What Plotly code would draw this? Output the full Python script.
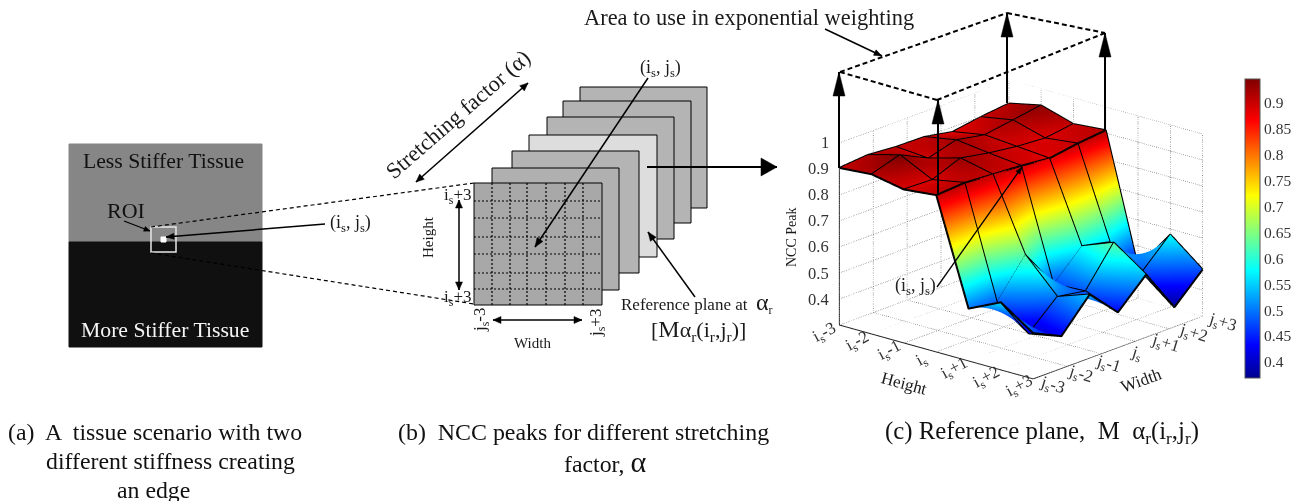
import math
import plotly.graph_objects as go

W, H = 1303, 501
SERIF = "Liberation Serif"

# ---------- panel (c) data ----------
i_index = [0, 1, 2, 3, 4, 5, 6]
j_index = [0, 1, 2, 3, 4, 5, 6]
ncc_i0 = [.904, .913, .904, .902, .881, .898, .910]
ncc_i1 = [.914, .947, .894, .924, .903, .920, .937]
ncc_i2 = [.890, .886, .929, .908, .893, .885, .900]
ncc_i3 = [.903, .910, .902, .895, .883, .900, .911]
ncc_i4 = [.501, .486, .628, .474, .580, .555, .420]
ncc_i5 = [.560, .400, .500, .481, .628, .474, .579]
ncc_i6 = [.476, .424, .544, .435, .540, .374, .479]
ncc_rows = [ncc_i0, ncc_i1, ncc_i2, ncc_i3, ncc_i4, ncc_i5, ncc_i6]

i_ticktext = ["i<sub>s</sub>-3", "i<sub>s</sub>-2", "i<sub>s</sub>-1", "i<sub>s</sub>",
              "i<sub>s</sub>+1", "i<sub>s</sub>+2", "i<sub>s</sub>+3"]
j_ticktext = ["j<sub>s</sub>-3", "j<sub>s</sub>-2", "j<sub>s</sub>-1", "j<sub>s</sub>",
              "j<sub>s</sub>+1", "j<sub>s</sub>+2", "j<sub>s</sub>+3"]
z_ticks = [0.4, 0.5, 0.6, 0.7, 0.8, 0.9, 1.0]
z_ticktext = ["0.4", "0.5", "0.6", "0.7", "0.8", "0.9", "1"]
j_grid = [0, 1.2, 2.4, 3.6, 4.8, 6]
i_grid = [0, 1, 2, 3, 4, 5, 6]
cbar_ticks = [0.4, 0.45, 0.5, 0.55, 0.6, 0.65, 0.7, 0.75, 0.8, 0.85, 0.9]
cbar_ticktext = ["0.4", "0.45", "0.5", "0.55", "0.6", "0.65", "0.7", "0.75", "0.8", "0.85", "0.9"]
Z_MIN, Z_MAX = 0.3, 1.0
C_MIN, C_MAX = 0.369, 0.946

JET = [[0, "rgb(0,0,143)"], [0.11, "rgb(0,0,255)"], [0.36, "rgb(0,255,255)"],
       [0.61, "rgb(255,255,0)"], [0.86, "rgb(255,0,0)"], [1, "rgb(128,0,0)"]]

# ---------- panel (b) planes (left, top, right, bottom, fill) ----------
planes = [
    (580, 87, 707, 208, "#b4b4b4"),
    (563, 101, 691, 223, "#b4b4b4"),
    (547, 117, 674, 239, "#b4b4b4"),
    (529, 135, 657, 257, "#dddddd"),
    (512, 151, 639, 273, "#b4b4b4"),
    (492, 168, 619, 290, "#b0b0b0"),
    (474, 183, 602, 305, "#a8a8a8"),
]
grid_v = [492, 510, 527, 546, 565, 583]
grid_h = [201, 218, 237, 254, 273, 289]

def px(x):
    return x / W

def py(y):
    return 1 - y / H

shapes, annos = [], []

def line(x0, y0, x1, y1, color="black", width=1.5, dash=None):
    shapes.append(dict(type="line", xref="paper", yref="paper", x0=px(x0), y0=py(y0), x1=px(x1), y1=py(y1),
                       line=dict(color=color, width=width, dash=dash), layer="above"))

def rect(x0, y0, x1, y1, fill=None, color="black", width=1):
    shapes.append(dict(type="rect", xref="paper", yref="paper", x0=px(x0), y0=py(y0), x1=px(x1), y1=py(y1),
                       fillcolor=fill if fill else "rgba(0,0,0,0)",
                       line=dict(color=color, width=width), layer="above"))

def head(x0, y0, x1, y1, length=8, half=3.5, color="black"):
    a = math.atan2(y1 - y0, x1 - x0)
    bx, by = x1 - length * math.cos(a), y1 - length * math.sin(a)
    nx, ny = -math.sin(a), math.cos(a)
    pts = [(x1, y1), (bx + half * nx, by + half * ny), (bx - half * nx, by - half * ny)]
    path = "M " + " L ".join(f"{px(p)} {py(q)}" for p, q in pts) + " Z"
    shapes.append(dict(type="path", xref="paper", yref="paper", path=path, fillcolor=color,
                       line=dict(color=color, width=0.5), layer="above"))

def arrow(x0, y0, x1, y1, both=False, width=1.5, length=8, half=3.5):
    line(x0, y0, x1, y1, width=width)
    head(x0, y0, x1, y1, length, half)
    if both:
        head(x1, y1, x0, y0, length, half)

def text(x, y, s, size=15, color="#1a1a1a", angle=0, anchor="center"):
    annos.append(dict(xref="paper", yref="paper", x=px(x), y=py(y), text=s, showarrow=False,
                      xanchor=anchor, yanchor="middle", textangle=angle, borderpad=0, borderwidth=0,
                      font=dict(family=SERIF, size=size, color=color)))

# ---------- panel (a) ----------
rect(69, 144, 262, 242, fill="#868686", color="#868686")
rect(69, 242, 262, 347, fill="#101010", color="#101010")
text(163, 161, "Less Stiffer Tissue", 21.7, "#111111")
text(165, 330, "More Stiffer Tissue", 21.7, "#f5f5f5")
text(126, 210, "ROI", 22, "#111111")
arrow(124, 221, 150, 231, width=1.2, length=6, half=2.5)
rect(151, 227, 176, 252, color="#e6e6e6", width=1.5)
rect(161, 237, 166, 242, fill="white", color="white")
arrow(325, 224, 166, 237, width=1.5, length=8, half=3)
text(350, 223, "(i<sub>s</sub>, j<sub>s</sub>)", 18)
line(151, 227, 474, 183, dash="4px,3px", width=1.2)
line(151, 253, 474, 304, dash="4px,3px", width=1.2)

# ---------- panel (b) ----------
for l, t, r, b, fill in planes:
    rect(l, t, r, b, fill=fill, color="black", width=1)
for gx in grid_v:
    line(gx, 183, gx, 305, dash="2px,2px", width=1.2)
for gy in grid_h:
    line(474, gy, 602, gy, dash="2px,2px", width=1.2)
arrow(647, 167, 777, 167, width=2, length=16, half=9)
arrow(648, 78, 535, 247, width=1.5, length=9, half=3.5)
text(660, 69, "(i<sub>s</sub>, j<sub>s</sub>)", 18)
arrow(695, 297, 648, 232, width=1.5, length=9, half=3.5)
text(697, 303, "Reference plane at  <span style='font-size:24px'>α</span><sub>r</sub>", 17)
text(698, 330, "[<span style='font-size:24px'>M</span>α<sub>r</sub>(i<sub>r</sub>,j<sub>r</sub>)]", 22)
text(428, 237, "Height", 15, angle=-90)
arrow(459, 200, 459, 290, both=True, width=1.5)
text(457, 196, "i<sub>s</sub>+3", 17)
text(457, 298, "i<sub>s</sub>+3", 17)
text(481, 320, "j<sub>s</sub>-3", 17, angle=-90)
text(597, 323, "j<sub>s</sub>+3", 17, angle=-90)
arrow(493, 320, 582, 320, both=True, width=1.5)
text(532, 343, "Width", 15)
text(458, 115, "Stretching factor (α)", 22.5, angle=-41)
arrow(416, 182, 528, 83, both=True, width=1.5)

# ---------- panel (c) overlays ----------
text(749, 18, "Area to use in exponential weighting", 22.4)
arrow(825, 29, 882, 56, width=1.5, length=8, half=3)
for x0, y0, y1 in [(839, 168, 72), (938, 195, 100), (1007, 103, 13), (1105, 130, 33)]:
    arrow(x0, y0, x0, y1, width=2, length=24, half=6)
top = [(840, 72), (1007, 13), (1105, 33), (937, 100), (840, 72)]
for (a, b), (c, d) in zip(top[:-1], top[1:]):
    line(a, b, c, d, dash="5px,3px", width=2)
arrow(937, 287, 1022, 167, width=1.3, length=7, half=2.5)
text(915, 286, "(i<sub>s</sub>, j<sub>s</sub>)", 18, "#222222")
text(791, 237, "NCC Peak", 14, angle=-90)
text(904, 383, "Height", 17, angle=15)
text(1141, 380, "Width", 17, angle=-20)

# ---------- captions ----------
text(8, 432, "(a)  A  tissue scenario with two", 23.8, "#111111", anchor="left")
text(171, 461, "different stiffness creating", 23.8, "#111111")
text(153, 490, "an edge", 23.8, "#111111")
text(583, 432, "(b)  NCC peaks for different stretching", 23.9, "#111111")
text(605, 461, "factor, <span style='font-size:30px'>α</span>", 23.8, "#111111")
text(1042, 432, "(c) Reference plane,  M  α<sub>r</sub>(i<sub>r</sub>,j<sub>r</sub>)", 24.8, "#111111")

# ---------- 3D scene ----------
traces = []
z_grid_color = "#6e6e6e"

def seg3(xs, ys, zs, color, width, dash=None):
    traces.append(go.Scatter3d(x=xs, y=ys, z=zs, mode="lines", hoverinfo="skip", showlegend=False,
                               line=dict(color=color, width=width, dash=dash)))

zt = [list(r) for r in zip(*ncc_rows)]  # z[j][i]
traces.append(go.Surface(
    x=i_index, y=j_index, z=zt, colorscale=JET, cmin=C_MIN, cmax=C_MAX, hoverinfo="skip",
    lighting=dict(ambient=1, diffuse=0, specular=0, fresnel=0, roughness=1),
    colorbar=dict(
        x=1245 / W, xanchor="left", y=py(228.5), yanchor="middle", len=299, lenmode="pixels",
        thickness=15, thicknessmode="pixels", xpad=0, ypad=0, outlinecolor="#555555", outlinewidth=1,
        tickmode="array", tickvals=cbar_ticks, ticktext=cbar_ticktext, ticks="",
        tickfont=dict(family=SERIF, size=15.5, color="#333333"))))

for zv in z_ticks:
    seg3([0, 0, 6], [0, 6, 6], [zv, zv, zv], z_grid_color, 1.5, "dot")
for jv in j_grid:
    seg3([6, 0, 0], [jv, jv, jv], [Z_MIN, Z_MIN, Z_MAX], z_grid_color, 1.5, "dot")
for iv in i_grid:
    seg3([iv, iv, iv], [0, 6, 6], [Z_MIN, Z_MIN, Z_MAX], z_grid_color, 1.5, "dot")
seg3([0, 0, 6, 6], [0, 0, 0, 6], [0.9, Z_MIN, Z_MIN, Z_MIN], "#222222", 2)

# wireframe along the data rows and columns
for a, row in zip(i_index, ncc_rows):
    seg3([a] * len(j_index), j_index, row, "black", 4)
for b in j_index:
    seg3(i_index, [b] * len(i_index), [r[b] for r in ncc_rows], "black", 4)

scene_ann = []
def s_text(x, y, z, s, xs, ys, angle, size=17, anchor="center"):
    scene_ann.append(dict(x=x, y=y, z=z, text=s, showarrow=False, xshift=xs, yshift=ys, textangle=angle,
                          xanchor=anchor, yanchor="middle",
                          font=dict(family=SERIF, size=size, color="#333333")))
for k, lab in zip(i_index, i_ticktext):
    s_text(k, 0, Z_MIN, lab, -14, -8, -28)
for k, lab in zip(j_index, j_ticktext):
    s_text(6, k, Z_MIN, lab, 19, -7, 17)
for zv, lab in zip(z_ticks, z_ticktext):
    s_text(0, 0, zv, lab, -8, 0, 0, anchor="right", size=16.5)

hidden = dict(visible=False, showspikes=False)
EYE = 2
ZOOM = 1.117
scene = dict(
    domain=dict(x=[801 / W, 1241 / W], y=[py(459), 1]),
    xaxis=dict(range=[0, 6], **hidden),
    yaxis=dict(range=[0, 6], **hidden),
    zaxis=dict(range=[Z_MIN, Z_MAX], **hidden),
    aspectmode="manual", aspectratio=dict(x=ZOOM, y=1.01 * ZOOM, z=0.75 * ZOOM),
    bgcolor="rgba(0,0,0,0)",
    camera=dict(projection=dict(type="orthographic"), up=dict(x=0, y=0, z=1), center=dict(x=0, y=0, z=0),
                eye=dict(x=0.62 * EYE, y=-0.716 * EYE, z=0.321 * EYE)),
    annotations=scene_ann,
    dragmode=False,
)

fig = go.Figure(traces)
fig.update_layout(width=W, height=H, margin=dict(l=0, r=0, t=0, b=0), paper_bgcolor="white",
                  showlegend=False, scene=scene, shapes=shapes, annotations=annos,
                  font=dict(family=SERIF))
fig.write_html("out.html", config=dict(displayModeBar=False),
               post_script="document.body.style.margin='0';")
